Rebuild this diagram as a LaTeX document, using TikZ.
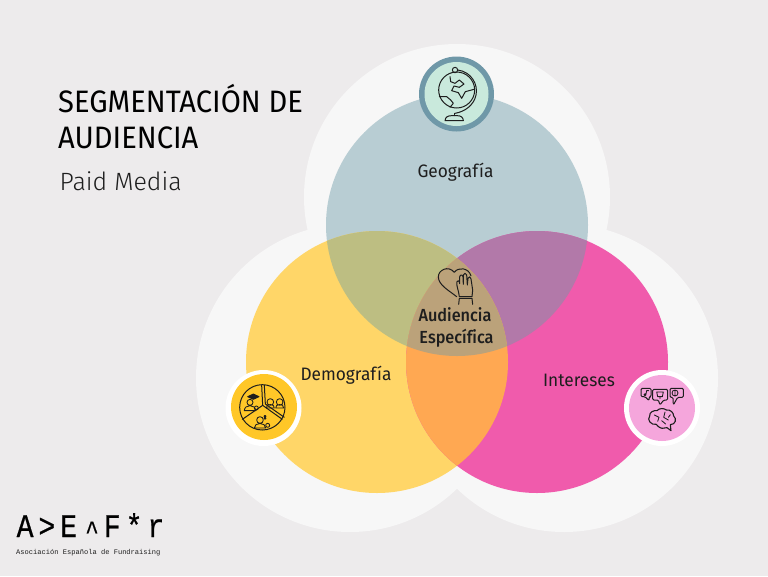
\documentclass[tikz,border=0pt]{standalone}
\usepackage{fontspec}
\setmainfont{Fira Sans}
\newfontfamily\titlef[FakeStretch=0.94]{Fira Sans}
\newfontfamily\subf{Fira Sans Light}
\newfontfamily\labelf[FakeStretch=0.96]{Fira Sans}
\newfontfamily\boldf[FakeStretch=0.93,Ligatures=NoCommon]{Fira Sans Medium}
\newfontfamily\logof[FakeStretch=0.85,FakeBold=0.6]{Liberation Mono}
\newfontfamily\logos{Liberation Mono}
\definecolor{bgc}{HTML}{EDEBEC}
\definecolor{halo}{HTML}{F7F7F7}
\definecolor{geo}{HTML}{B8CDD3}
\definecolor{dem}{HTML}{FFD668}
\definecolor{intc}{HTML}{F05BAC}
\definecolor{geodem}{HTML}{BDBE82}
\definecolor{geoint}{HTML}{B279A9}
\definecolor{demint}{HTML}{FFA852}
\definecolor{allc}{HTML}{BBA27A}
\definecolor{ink}{HTML}{1E1E1E}
\definecolor{ringc}{HTML}{6F98A8}
\definecolor{mint}{HTML}{C9E9DC}
\definecolor{amber}{HTML}{FFC728}
\definecolor{lightpink}{HTML}{F5A6DC}
\tikzset{
  lab/.style={text=ink,font=\labelf\fontsize{18}{20}\selectfont,inner sep=0pt},
  boldlab/.style={text=ink,font=\boldf\fontsize{17.5}{20}\selectfont,inner sep=0pt},
  icon/.style={draw=ink,line width=1pt,line join=round,line cap=round,fill=none},
  fine/.style={icon,line width=.85pt},
  zoomed/.style={shift={#1},x=.33333pt,y=-.33333pt}
}
\newcommand{\cgeo}{(457,225) circle (131)}
\newcommand{\cdem}{(377,362) circle (131)}
\newcommand{\cint}{(537,362) circle (131)}
\newcommand{\logoch}[1]{\makebox[21.8pt][c]{#1}}
\begin{document}
\begin{tikzpicture}[x=1pt,y=-1pt]
\useasboundingbox (0,0) rectangle (768,576);
\fill[bgc] (0,0) rectangle (768,576);
% halos
\fill[halo] (457,197) circle (153) (350,378) circle (154) (564,378) circle (154);
% main discs
\fill[geo] \cgeo;
\fill[dem] \cdem;
\fill[intc] \cint;
\begin{scope}\clip \cgeo; \fill[geodem] \cdem; \fill[geoint] \cint; \end{scope}
\begin{scope}\clip \cdem; \fill[demint] \cint; \end{scope}
\begin{scope}\clip \cgeo; \clip \cdem; \fill[allc] \cint; \end{scope}
% title
\node[anchor=base west,inner sep=0pt,text=black,font=\titlef\fontsize{31}{36}\selectfont] (t1) at (58,112) {SEGMENTACIÓN DE};
\node[anchor=base west,inner sep=0pt,text=black,font=\titlef\fontsize{31}{36}\selectfont] (t2) at (58,148) {AUDIENCIA};
\node[anchor=base west,inner sep=0pt,text=ink,font=\subf\fontsize{25}{30}\selectfont] (t3) at (59.5,190) {Paid Media};
% labels
\node[lab] (lgeo) at (455.5,172) {Geografía};
\node[lab] (ldem) at (346,375) {Demografía};
\node[lab] (lint) at (579,380) {Intereses};
\node[boldlab] (la1) at (455,315) {Audiencia};
\node[boldlab] (la2) at (456.5,338.5) {Específica};
% globe badge
\fill[ringc] (456.5,94) circle (37.5);
\fill[mint] (456.5,94) circle (32);
\begin{scope}[zoomed={(400,50)}]
  \draw[icon] (170,120) circle (54);
  \draw[icon] (165,60) circle (8);
  \draw[icon] (173,60) .. controls (215,65) and (235,105) .. (228,135) .. controls (222,165) and (195,185) .. (165,190);
  \draw[icon] (163,190) -- (163,197);
  \draw[icon] (135,212) .. controls (136,200) and (145,197) .. (155,197) -- (172,197) .. controls (182,197) and (190,202) .. (190,212) -- cycle;
  \draw[icon] (150,80) -- (152,95) -- (165,100) -- (178,90) -- (192,102) -- (178,112) -- (162,108) -- (155,122) -- (175,128) -- (185,145) -- (196,125) -- (222,118);
  \draw[icon] (118,140) -- (140,140) -- (152,150) -- (160,160) -- (150,172);
\end{scope}
% demography badge
\fill[white] (263.5,408) circle (38);
\fill[amber] (264,407) circle (33);
\begin{scope}[zoomed={(215,360)}]
  \draw[icon] (142,142) circle (68);
  \draw[icon] (140,76) -- (143,136) -- (82,178);
  \draw[icon] (148,76) -- (151,132) -- (208,172);
  \draw[icon] (143,136) -- (202,178);
  \draw[fine,fill=ink] (98,110) -- (115,102) -- (132,110) -- (115,118) -- cycle;
  \draw[fine] (105,127) circle (9) (88,152) .. controls (88,132) and (122,132) .. (122,152) -- cycle;
  \draw[fine] (124,144) circle (6);
  \draw[fine] (166,126) circle (10) (154,144) .. controls (152,130) and (180,130) .. (178,144) -- cycle;
  \draw[fine] (194,126) circle (10) (182,144) .. controls (180,130) and (208,130) .. (206,144) -- cycle;
  \draw[fine] (135,180) circle (10) (118,204) .. controls (117,186) and (153,186) .. (152,204) -- cycle;
  \draw[fine] (150,169) circle (3) (150,175) circle (3) (158,196) circle (6);
\end{scope}
% interests badge
\fill[white] (662,408) circle (38);
\fill[lightpink] (662,408) circle (33);
\begin{scope}[zoomed={(615,360)}]
  \draw[icon,rounded corners=1.2pt] (78,85) -- (108,85) -- (108,110) -- (103,110) -- (102,122) -- (90,110) -- (78,110) -- cycle;
  \draw[icon,rounded corners=1.2pt] (113,88) -- (158,88) -- (158,120) -- (146,120) -- (135,135) -- (130,120) -- (113,120) -- cycle;
  \draw[icon,rounded corners=1.2pt] (165,85) -- (205,85) -- (205,112) -- (188,112) -- (175,135) -- (174,112) -- (165,112) -- cycle;
  \draw[fine] (90,104) circle (3) (93,102) -- (95,92) -- (101,92);
  \draw[fine] (125,96) -- (145,96) -- (142,110) -- (128,110) -- cycle (135,110) -- (135,116);
  \draw[fine] (180,99) circle (9) (180,90) -- (180,108);
  \draw[icon,line width=1.1pt] (148,204) .. controls (140,208) and (128,200) .. (124,193)
     .. controls (108,196) and (95,180) .. (104,168)
     .. controls (102,156) and (118,150) .. (126,152)
     .. controls (132,144) and (148,144) .. (154,150)
     .. controls (166,148) and (176,158) .. (176,168)
     .. controls (186,176) and (182,194) .. (166,194)
     -- (168,212) -- (156,203) .. controls (154,205) and (151,205) .. (148,204) -- cycle;
  \draw[fine] (118,165) -- (132,172) -- (128,184) (150,156) -- (146,172) -- (160,180) (140,182) -- (152,192) (166,164) -- (160,172);
\end{scope}
% heart and hand
\begin{scope}[zoomed={(400,255)}]
  \draw[icon] (170,125) .. controls (145,105) and (115,90) .. (115,65) .. controls (115,45) and (145,30) .. (163,52) .. controls (175,35) and (205,38) .. (213,62);
  \fill[allc] (180,62) rectangle (213,125);
  \draw[icon] (178,125) .. controls (176,105) and (168,92) .. (171,80) .. controls (173,74) and (178,76) .. (179,86) -- (179,66) .. controls (180,58) and (188,58) .. (189,66) -- (190,88) -- (190,60) .. controls (191,53) and (199,53) .. (200,60) -- (202,90) -- (204,70) .. controls (206,63) and (213,64) .. (213,72) -- (218,105) -- (216,125) -- cycle;
  \draw[icon] (178,130) -- (216,130) (176,148) -- (178,130) (216,130) -- (218,148);
\end{scope}
% logo
\node[anchor=base west,inner sep=0pt,text=black,font=\logof\fontsize{33}{36}\selectfont] (logo) at (14,537) {\logoch{A}\logoch{>}\logoch{E}\logoch{\hspace{3pt}\raisebox{-2pt}{\scalebox{.8}{\symbol{94}}}}\logoch{F}\logoch{*}\logoch{r}};
\node[anchor=base west,inner sep=0pt,text=ink,font=\logos\fontsize{7.07}{8}\selectfont] (logosub) at (16,554) {Asociación Española de Fundraising};
\end{tikzpicture}
\end{document}
